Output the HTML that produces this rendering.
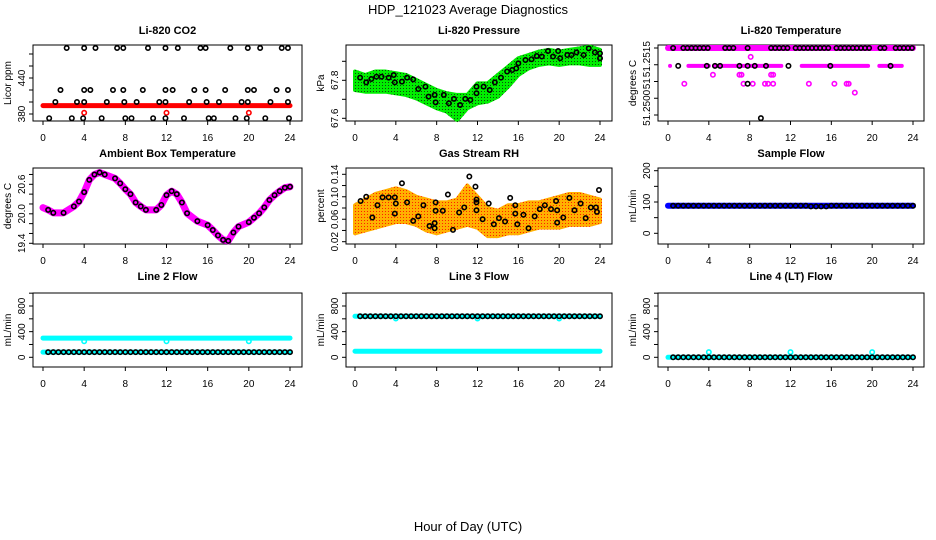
<!DOCTYPE html>
<html><head><meta charset="utf-8"><style>
html,body{margin:0;padding:0;background:#fff;}
svg{display:block;font-family:"Liberation Sans",sans-serif;}
</style></head><body>
<svg id="chart" width="936" height="540" viewBox="0 0 936 540" xmlns="http://www.w3.org/2000/svg">
<defs>
<pattern id="gpat" width="3" height="3" patternUnits="userSpaceOnUse"><rect width="3" height="3" fill="#00ee00"/><rect x="1" y="1" width="1" height="1" fill="#114411"/></pattern>
<pattern id="opat" width="3" height="3" patternUnits="userSpaceOnUse"><rect width="3" height="3" fill="#ffb000"/><rect x="1" y="1" width="1" height="1" fill="#ff2000"/></pattern>
</defs>
<text x="468" y="14" text-anchor="middle" font-size="13">HDP_121023  Average Diagnostics</text>
<text x="468" y="531" text-anchor="middle" font-size="13">Hour of Day (UTC)</text>
</svg>
<script>
// ---- data ----
const xTicks=[0,4,8,12,16,20,24];
// CO2
const co2TopHours=[2.3,4.0,5.1,7.2,7.8,10.2,11.9,13.1,15.3,15.8,18.2,19.9,21.1,23.2,23.8];
const co2TopVals=[490,490,490,490,490,490,490,490,490,490,490,490,490,490,490];
const co2MidHours=[1.7,4.0,4.6,6.8,7.8,9.7,11.9,12.6,14.7,15.8,17.7,19.9,20.5,22.7,23.8];
const co2MidVals=[420,420,420,420,420,420,420,420,420,420,420,420,420,420,420];
const co2LowHours=[1.2,3.3,4.0,6.2,7.9,9.1,11.3,11.9,14.2,15.9,17.1,19.3,19.9,22.1,23.8];
const co2LowVals=[400,400,400,400,400,400,400,400,400,400,400,400,400,400,400];
const co2BotHours=[0.6,2.8,3.9,5.7,8.0,8.6,10.7,11.9,13.7,16.1,16.6,18.7,19.8,21.6,23.9];
const co2BotVals=[373,373,373,373,373,373,373,373,373,373,373,373,373,373,373];
const co2RedHours=[0,24];
const co2RedVals=[394,394];
const co2RedOutHours=[4.0,12.0,20.0];
const co2RedOutVals=[382,382,382];
const co2YTicks=[380,400,420,440,460,480];
const co2YLabels=["380","","","440","",""];
// Pressure
const presBandHours=[0,1,2,3,4,5,6,7,8,9,10,11,12,13,14,15,16,17,18,19,20,21,22,23,24];
const presUpper=[67.846,67.828,67.846,67.846,67.837,67.828,67.802,67.775,67.749,67.732,67.723,67.723,67.784,67.784,67.828,67.872,67.916,67.933,67.951,67.960,67.951,67.960,67.968,67.977,67.960];
const presLower=[67.749,67.740,67.740,67.740,67.732,67.723,67.705,67.679,67.653,67.635,67.591,67.653,67.679,67.688,67.714,67.767,67.828,67.863,67.881,67.889,67.881,67.889,67.889,67.881,67.881];
const presHours=[0.5,1.1,1.6,2.1,2.6,3.3,3.8,3.9,4.6,5.1,5.7,6.2,6.9,7.2,7.8,7.9,8.7,9.2,9.7,10.3,10.8,11.3,11.9,11.9,12.6,13.2,13.7,14.3,14.9,15.4,15.8,16.0,16.7,17.3,17.8,18.3,18.9,19.4,19.9,20.1,20.8,21.2,21.7,22.4,22.9,23.5,24.0,24.0];
const presVals=[67.814,67.789,67.807,67.819,67.819,67.814,67.828,67.789,67.793,67.814,67.805,67.754,67.767,67.714,67.723,67.684,67.723,67.679,67.702,67.670,67.702,67.696,67.767,67.732,67.767,67.749,67.789,67.814,67.846,67.854,67.863,67.889,67.907,67.911,67.928,67.925,67.954,67.925,67.954,67.916,67.933,67.933,67.947,67.933,67.968,67.947,67.942,67.916];
const presYTicks=[67.6,67.7,67.8,67.9];
const presYLabels=["67.6","","67.8",""];
// Li-820 temperature
const tempBandHours=[0,24];
const tempBandVals=[51.2515,51.2515];
const tempSegStart=[0.2,2.0,4.5,13.1,20.7];
const tempSegEnd=[0.2,4.0,11.1,19.6,22.9];
const tempSegVal=[51.2511,51.2511,51.2511,51.2511,51.2511];
const tempMagHours=[4.4,7.0,7.2,10.1,10.3,1.6,7.4,8.3,9.5,9.8,10.3,13.8,16.3,17.5,17.7,8.1,18.3];
const tempMagVals=[51.2509,51.2509,51.2509,51.2509,51.2509,51.2507,51.2507,51.2507,51.2507,51.2507,51.2507,51.2507,51.2507,51.2507,51.2507,51.2513,51.2505];
const tempTopHours=[0.5,1.5,1.9,2.3,2.7,3.1,3.5,3.9,5.6,6.0,6.4,7.8,10.1,10.5,10.9,11.3,11.7,12.5,12.9,13.3,13.7,14.1,14.5,14.9,15.3,15.7,16.5,16.9,17.3,17.7,18.1,18.5,18.9,19.3,19.7,20.8,21.2,22.3,22.7,23.1,23.5,23.9];
const tempMidHours=[1.0,3.8,4.6,5.1,7.0,7.8,8.5,9.6,11.8,15.9,21.8,7.8,9.1];
const tempMidVals=[51.2511,51.2511,51.2511,51.2511,51.2511,51.2511,51.2511,51.2511,51.2511,51.2511,51.2511,51.2507,51.24993];
const tempYTickVals=[51.2500,51.250375,51.25075,51.251125,51.2515];
const tempYLabels=["51.2500","51","51.2515"];
const tempYLabelVals=[51.25016,51.2507,51.25125];
// Ambient box temperature
const ambHours=[0,0.5,1,2,3,3.5,4,4.5,5,5.5,6,7,7.5,8,8.5,9,9.5,10,11,11.5,12,12.5,13,13.5,14,15,16,16.5,17,17.5,18,18.5,19,20,20.5,21,21.5,22,22.5,23,23.5,24];
const ambVals=[20.125,20.08,20.02,20.02,20.15,20.25,20.44,20.69,20.8,20.84,20.8,20.72,20.62,20.5,20.4,20.23,20.15,20.08,20.08,20.18,20.38,20.46,20.4,20.23,20.01,19.85,19.77,19.67,19.56,19.47,19.45,19.62,19.74,19.83,19.92,20.01,20.13,20.28,20.38,20.46,20.53,20.55];
const ambYTicks=[19.4,19.6,19.8,20.0,20.2,20.4,20.6,20.8];
const ambYLabels=["19.4","","","20.0","","","20.6",""];
// Gas stream RH
const rhBandHours=[0,1,2,3,4,5,6,7,8,9,10,11,12,13,14,15,16,17,18,19,20,21,22,23,24];
const rhUpper=[0.085,0.095,0.105,0.11,0.115,0.11,0.10,0.095,0.09,0.09,0.095,0.12,0.10,0.08,0.075,0.085,0.085,0.09,0.09,0.095,0.10,0.105,0.105,0.10,0.095];
const rhLower=[0.035,0.04,0.045,0.05,0.055,0.055,0.05,0.04,0.035,0.04,0.045,0.05,0.045,0.03,0.03,0.035,0.035,0.04,0.045,0.045,0.045,0.05,0.05,0.05,0.055];
const rhHours=[0.55,1.1,1.7,2.2,2.7,3.3,3.9,4.0,3.9,4.6,5.1,5.7,6.2,6.7,7.3,7.8,7.8,7.9,7.9,8.6,9.1,9.6,10.2,10.7,11.2,11.8,11.9,11.9,11.9,12.5,13.1,13.6,14.1,14.7,15.2,15.7,15.7,15.9,16.5,17.0,17.6,18.1,18.6,19.2,19.7,19.8,19.8,20.4,21.0,21.5,22.1,22.6,23.1,23.6,23.7,23.9];
const rhVals=[0.0925,0.100,0.063,0.085,0.099,0.099,0.099,0.088,0.070,0.124,0.090,0.057,0.065,0.085,0.048,0.044,0.053,0.090,0.075,0.075,0.104,0.041,0.072,0.081,0.136,0.118,0.095,0.076,0.090,0.060,0.088,0.051,0.062,0.056,0.098,0.085,0.070,0.051,0.068,0.044,0.065,0.078,0.085,0.078,0.0925,0.076,0.054,0.063,0.098,0.076,0.088,0.062,0.081,0.081,0.073,0.112];
const rhYTicks=[0.02,0.04,0.06,0.08,0.10,0.12,0.14];
const rhYLabels=["0.02","","0.06","","0.10","","0.14"];
// Flows
const flowHours=[0.5,1,1.5,2,2.5,3,3.5,4,4.5,5,5.5,6,6.5,7,7.5,8,8.5,9,9.5,10,10.5,11,11.5,12,12.5,13,13.5,14,14.5,15,15.5,16,16.5,17,17.5,18,18.5,19,19.5,20,20.5,21,21.5,22,22.5,23,23.5,24];
const sampleVals=[88,88,88,88,88,88,88,88,88,88,88,88,88,88,88,88,88,88,88,88,88,88,88,88,88,88,88,86,86,86,86,88,88,88,88,88,88,88,88,88,88,88,88,88,88,88,88,88];
const sampleBandHours=[0,24];
const sampleBandVals=[88,88];
const sampleYTicks=[0,50,100,150,200];
const sampleYLabels=["0","","100","","200"];
const line2Black=[80,80,80,80,80,80,80,80,80,80,80,80,80,80,80,80,80,80,80,80,80,80,80,80,80,80,80,80,80,80,80,80,80,80,80,80,80,80,80,80,80,80,80,80,80,80,80,80];
const line2BandHours=[0,24];
const line2CyanHigh=[300,300];
const line2CyanLow=[80,80];
const line2OutHours=[4,12,20];
const line2OutVals=[250,250,250];
const line3Black=[640,640,640,640,640,640,640,640,640,640,640,640,640,640,640,640,640,640,640,640,640,640,640,640,640,640,640,640,640,640,640,640,640,640,640,640,640,640,640,640,640,640,640,640,640,640,640,640];
const line3BandHours=[0,24];
const line3CyanHigh=[640,640];
const line3CyanLow=[95,95];
const line3OutHours=[4,12,20];
const line3OutVals=[605,605,605];
const line4Black=[0,0,0,0,0,0,0,0,0,0,0,0,0,0,0,0,0,0,0,0,0,0,0,0,0,0,0,0,0,0,0,0,0,0,0,0,0,0,0,0,0,0,0,0,0,0,0,0];
const line4BandHours=[0,24];
const line4Cyan=[0,0];
const line4OutHours=[4,12,20];
const line4OutVals=[80,80,80];
const flowYTicks=[0,200,400,600,800,1000];
const flowYLabels=["0","","400","","800",""];

// ---- drawing ----
const svg=document.getElementById('chart');
const NS='http://www.w3.org/2000/svg';
function mk(tag,attrs,parent){const e=document.createElementNS(NS,tag);for(const k in attrs)e.setAttribute(k,attrs[k]);(parent||svg).appendChild(e);return e;}
const cols=[{b0:33,b1:302,t0:43,t1:290},{b0:346,b1:612,t0:355,t1:600},{b0:658,b1:924,t0:668,t1:913}];
const rows=[{y0:45,y1:121,title:34},{y0:168,y1:244,title:157},{y0:293,y1:367,title:280}];
function panel(c,r,title,ylab,va,pa,vb,pb,name){
  const C=cols[c],R=rows[r];
  const g=mk('g',{});
  
  
  const sx=h=>C.t0+(C.t1-C.t0)*h/24;
  const sy=v=>pa+(v-va)*(pb-pa)/(vb-va);
  const t=mk('text',{x:(C.b0+C.b1)/2,y:R.title,'text-anchor':'middle','font-size':'11','font-weight':'bold'},g);
  t.textContent=title;
  
  
  const yl=mk('text',{transform:`translate(${C.b0-22},${(R.y0+R.y1)/2}) rotate(-90)`,'text-anchor':'middle','font-size':'10'},g);
  yl.textContent=ylab;
  
  
  const box=mk('rect',{x:C.b0,y:R.y0,width:C.b1-C.b0,height:R.y1-R.y0,fill:'none',stroke:'#000','stroke-width':'1'},g);
  
  
  const xa=mk('g',{},g);
  
  
  mk('line',{x1:sx(0),x2:sx(24),y1:R.y1,y2:R.y1,stroke:'#000'},xa);
  xTicks.forEach(v=>{mk('line',{x1:sx(v),x2:sx(v),y1:R.y1,y2:R.y1+4,stroke:'#000'},xa);
    const tl=mk('text',{x:sx(v),y:R.y1+20,'text-anchor':'middle','font-size':'10'},xa);tl.textContent=v;
    
    });
  const plot=mk('g',{},g);
  return {g,plot,sx,sy,C,R,name};
}
function yaxis(P,ticks,labels,labelVals){
  const ya=mk('g',{},P.g);
  
  
  const x=P.C.b0;
  mk('line',{x1:x,x2:x,y1:P.sy(ticks[0]),y2:P.sy(ticks[ticks.length-1]),stroke:'#000'},ya);
  ticks.forEach(v=>mk('line',{x1:x-4,x2:x,y1:P.sy(v),y2:P.sy(v),stroke:'#000'},ya));
  const lv=labelVals||ticks;
  labels.forEach((s,i)=>{if(!s)return;const t=mk('text',{transform:`translate(${x-8},${P.sy(lv[i])}) rotate(-90)`,'text-anchor':'middle','font-size':'10'},ya);t.textContent=s;
    
    });
}
function pts(P,hs,vs,color,nm,r){
  const g=mk('g',{},P.plot);
  
  
  hs.forEach((h,i)=>{const c=mk('circle',{cx:P.sx(h),cy:P.sy(vs[i]),r:r||2.2,fill:'none',stroke:color,'stroke-width':'1.6'},g);
    
    });
}
function band(P,hs,vs,color,w,nm){
  const p=mk('polyline',{points:hs.map((h,i)=>P.sx(h)+','+P.sy(vs[i])).join(' '),fill:'none',stroke:color,'stroke-width':w,'stroke-linecap':'round','stroke-linejoin':'round'},P.plot);
  
  
}
function area(P,hs,lo,hi,fill,nm){
  const up=hs.map((h,i)=>P.sx(h)+','+P.sy(hi[i]));
  const dn=hs.map((h,i)=>P.sx(h)+','+P.sy(lo[i])).reverse();
  const p=mk('polygon',{points:up.concat(dn).join(' '),fill:fill,stroke:fill,'stroke-width':'4','stroke-linejoin':'round'},P.plot);
  
  
}

// Panel 1: CO2
let P=panel(0,0,'Li-820 CO2','Licor ppm',380,114,440,78,'co2-panel');
yaxis(P,co2YTicks,co2YLabels);
band(P,co2RedHours,co2RedVals,'#ff0000',5,'co2-red-band');
pts(P,co2RedOutHours,co2RedOutVals,'#ff0000','co2-red-outliers');
pts(P,co2TopHours,co2TopVals,'#000','co2-top-points');
pts(P,co2MidHours,co2MidVals,'#000','co2-mid-points');
pts(P,co2LowHours,co2LowVals,'#000','co2-low-points');
pts(P,co2BotHours,co2BotVals,'#000','co2-bottom-points');

// Panel 2: Pressure
P=panel(1,0,'Li-820 Pressure','kPa',67.6,118.3,67.8,80.3,'pressure-panel');
yaxis(P,presYTicks,presYLabels);
area(P,presBandHours,presLower,presUpper,'url(#gpat)','pressure-green-cloud');
pts(P,presHours,presVals,'#000','pressure-points');

// Panel 3: Temperature
P=panel(2,0,'Li-820 Temperature','degrees C',51.25,115,51.2515,48,'li820-temp-panel');
yaxis(P,tempYTickVals,tempYLabels.map(()=>''));
(function(){const ya=P.g;tempYLabels.forEach((s,i)=>{const t=mk('text',{transform:`translate(${P.C.b0-8},${P.sy(tempYLabelVals[i])}) rotate(-90)`,'text-anchor':'middle','font-size':'10'},ya);t.textContent=s;
  
  });})();
band(P,tempBandHours,tempBandVals,'#ff00ff',6,'temp-magenta-band');
tempSegStart.forEach((s,i)=>band(P,[s,tempSegEnd[i]],[tempSegVal[i],tempSegVal[i]],'#ff00ff',4,'temp-magenta-segment'));
pts(P,tempMagHours,tempMagVals,'#ff00ff','temp-magenta-points');
pts(P,tempTopHours,tempTopHours.map(()=>tempBandVals[0]),'#000','temp-top-points');
pts(P,tempMidHours,tempMidVals,'#000','temp-black-points');

// Panel 4: Ambient
P=panel(0,1,'Ambient Box Temperature','degrees C',19.4,243.3,20.6,184.3,'ambient-temp-panel');
yaxis(P,ambYTicks,ambYLabels);
band(P,ambHours,ambVals,'#ff00ff',7,'ambient-magenta-line');
pts(P,ambHours.slice(1),ambVals.slice(1),'#000','ambient-points');

// Panel 5: RH
P=panel(1,1,'Gas Stream RH','percent',0.02,241.7,0.14,174.3,'rh-panel');
yaxis(P,rhYTicks,rhYLabels);
area(P,rhBandHours,rhLower,rhUpper,'url(#opat)','rh-orange-cloud');
pts(P,rhHours,rhVals,'#000','rh-points');

// Panel 6: Sample flow
P=panel(2,1,'Sample Flow','mL/min',0,233.3,200,170.7,'sample-flow-panel');
yaxis(P,sampleYTicks,sampleYLabels);
band(P,sampleBandHours,sampleBandVals,'#0000ff',6,'sample-blue-band');
pts(P,flowHours,sampleVals,'#000','sample-points');

// Panel 7: Line 2
P=panel(0,2,'Line 2 Flow','mL/min',0,357.3,800,306,'line2-flow-panel');
yaxis(P,flowYTicks,flowYLabels);
band(P,line2BandHours,line2CyanHigh,'#00ffff',5,'line2-cyan-high');
band(P,line2BandHours,line2CyanLow,'#00ffff',5,'line2-cyan-low');
pts(P,line2OutHours,line2OutVals,'#00ffff','line2-outliers');
pts(P,flowHours,line2Black,'#000','line2-points');

// Panel 8: Line 3
P=panel(1,2,'Line 3 Flow','mL/min',0,357.3,800,306,'line3-flow-panel');
yaxis(P,flowYTicks,flowYLabels);
band(P,line3BandHours,line3CyanHigh,'#00ffff',5,'line3-cyan-high');
band(P,line3BandHours,line3CyanLow,'#00ffff',5,'line3-cyan-low');
pts(P,line3OutHours,line3OutVals,'#00ffff','line3-outliers');
pts(P,flowHours,line3Black,'#000','line3-points');

// Panel 9: Line 4
P=panel(2,2,'Line 4 (LT) Flow','mL/min',0,357.3,800,306,'line4-flow-panel');
yaxis(P,flowYTicks,flowYLabels);
band(P,line4BandHours,line4Cyan,'#00ffff',5,'line4-cyan-band');
pts(P,line4OutHours,line4OutVals,'#00ffff','line4-outliers');
pts(P,flowHours,line4Black,'#000','line4-points');
</script>
</body></html>
